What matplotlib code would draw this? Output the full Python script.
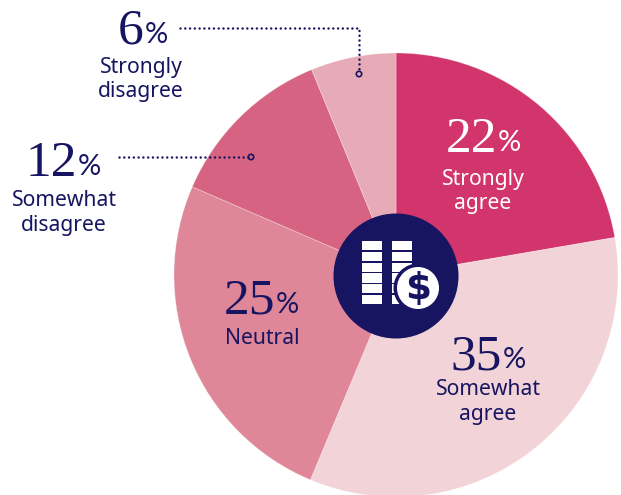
import matplotlib
matplotlib.use("Agg")
import matplotlib.pyplot as plt
from matplotlib.patches import Circle, Rectangle

H = 495
categories = ["Strongly agree", "Somewhat agree", "Neutral", "Somewhat disagree", "Strongly disagree"]
values = [22, 35, 25, 12, 6]              # printed percentages
slice_shares = [22.3, 34.0, 25.2, 12.3, 6.2]  # drawn slice sizes
colors = ["#D1356B", "#F2D3D7", "#DF8698", "#D66382", "#E7ABB8"]
NAVY = "#171561"
SANS = "Noto Sans"
SERIF = "Liberation Serif"

fig = plt.figure(figsize=(6.21, 4.95), dpi=100)
ax = fig.add_axes([0, 0, 1, 1])
ax.pie(slice_shares, colors=colors, center=(396, H - 275), radius=222, startangle=90,
       counterclock=False, frame=False, wedgeprops=dict(linewidth=0.6, edgecolor="#ffffff55"))
ax.set_xlim(0, 621)
ax.set_ylim(0, H)
ax.set_aspect("equal")
ax.axis("off")

def Y(y):
    return H - y

# centre badge
ax.add_patch(Circle((396, Y(276)), 62.5, fc=NAVY, ec="none", zorder=3))
rows = [(241, 250), (252, 261), (263, 272), (273, 283), (284, 293), (295, 304)]
for x0 in (362, 392):
    for y0, y1 in rows:
        ax.add_patch(Rectangle((x0, Y(y1)), 20, y1 - y0, fc="white", ec="none", zorder=4))
ax.add_patch(Circle((418, Y(288)), 24.5, fc=NAVY, ec="none", zorder=5))
ax.add_patch(Circle((418, Y(288)), 21, fc="white", ec="none", zorder=6))
ax.text(418, Y(289), "$", color=NAVY, fontsize=27, family="DejaVu Sans", weight="bold",
        ha="center", va="center", zorder=7)

def label(num, xj, base, lines, xc, line_ys, color=NAVY):
    ax.text(xj, Y(base), str(num), color=color, family=SERIF, fontsize=37,
            ha="right", va="baseline", zorder=8)
    ax.text(xj + 1, Y(base - 1), "%", color=color, family="Lato", fontsize=21,
            ha="left", va="baseline", zorder=8)
    for t, y in zip(lines, line_ys):
        ax.text(xc, Y(y), t, color=color, family=SANS, fontsize=15.2,
                ha="center", va="baseline", zorder=8)

label(values[4], 144, 44, ["Strongly", "disagree"], 141, [73, 97])
label(values[3], 77, 176, ["Somewhat", "disagree"], 64, [206, 231])
label(values[0], 497, 152, ["Strongly", "agree"], 483, [185, 209], color="white")
label(values[2], 275, 314, ["Neutral"], 262, [344])
label(values[1], 502, 369, ["Somewhat", "agree"], 488, [395, 420])

# leader lines
ls = dict(color=NAVY, lw=1.8, ls=(0, (0.01, 1.9)), dash_capstyle="round", zorder=8)
ax.plot([180, 359, 359], [Y(28), Y(28), Y(71)], **ls)
ax.plot([119, 248], [Y(157), Y(157)], **ls)
for x, y in [(359, 74), (251, 157)]:
    ax.add_patch(Circle((x, Y(y)), 2.7, fc="none", ec=NAVY, lw=1.2, zorder=9))

fig.savefig("out.png", dpi=100)
